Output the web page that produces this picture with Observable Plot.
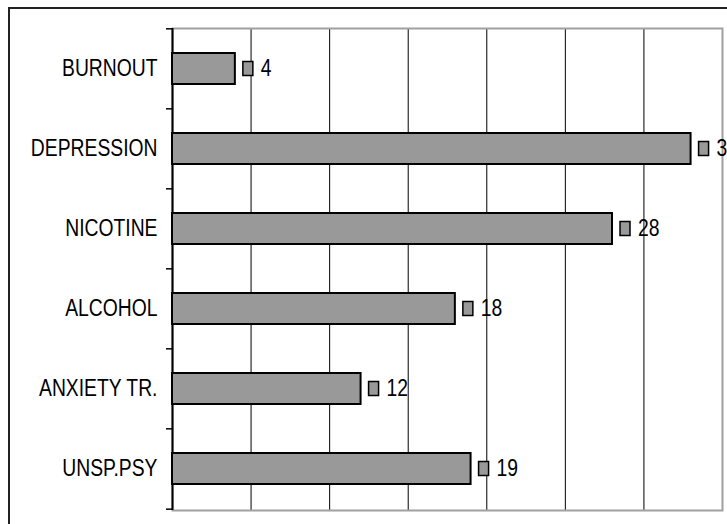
<!DOCTYPE html>
<html>
<head>
<meta charset="utf-8">
<script src="https://cdn.jsdelivr.net/npm/d3@7"></script>
<script src="https://cdn.jsdelivr.net/npm/@observablehq/plot@0.6"></script>
<style>
  html, body { margin: 0; padding: 0; background: #fff; overflow: hidden; width: 727px; height: 524px; }
  #wrap { position: relative; width: 727px; height: 524px; }
  #border { position: absolute; left: 8px; top: 7px; width: 800px; height: 600px; border: 2px solid #222; box-sizing: border-box; }
  #chart { position: absolute; left: 0; top: 0; }
</style>
</head>
<body>
<div id="wrap">
  <div id="border"></div>
  <div id="chart"></div>
</div>
<script>
const categories = ["BURNOUT", "DEPRESSION", "NICOTINE", "ALCOHOL", "ANXIETY TR.", "UNSP.PSY"];
const values = [4, 33, 28, 18, 12, 19];
const gridTicks = [5, 10, 15, 20, 25, 30];
const xMax = 35;

const data = categories.map((c, i) => ({category: c, value: values[i]}));
const font = "'Liberation Sans', Arial, sans-serif";

const W = 727, H = 524;
const mTop = 28, mBottom = H - 510, mLeft = 172, mRight = W - 722;
const step = (H - mTop - mBottom) / categories.length;

const chart = Plot.plot({
  width: W,
  height: H,
  marginTop: mTop,
  marginBottom: mBottom,
  marginLeft: mLeft,
  marginRight: mRight,
  style: {fontFamily: font, fontSize: "23px", color: "#000", background: "transparent", overflow: "visible"},
  x: {domain: [0, xMax], axis: null},
  y: {domain: categories, paddingInner: 0.61, paddingOuter: 0.305, axis: null, label: null},
  marks: [
    Plot.ruleX(gridTicks, {stroke: "#000", strokeWidth: 1}),
    Plot.frame({stroke: "#a0a0a0", strokeWidth: 2}),
    Plot.ruleX([0], {stroke: "#000", strokeWidth: 2}),
    Plot.axisY({tickSize: 6, dy: -step / 2, text: null, label: null, stroke: "#000", strokeWidth: 1.5}),
    Plot.axisY({ticks: [categories[categories.length - 1]], tickSize: 6, dy: step / 2, text: null, label: null, stroke: "#000", strokeWidth: 1.5}),
    Plot.axisY({tickSize: 0, tickPadding: 15, fontSize: 23, fill: "#000", label: null}),
    Plot.barX(data, {x: "value", y: "category", fill: "#999999", stroke: "#000", strokeWidth: 2}),
    Plot.barX(data, {x1: "value", x2: "value", y: "category", insetLeft: 8, insetRight: -18, insetTop: 8.5, insetBottom: 8.5, fill: "#999999", stroke: "#000", strokeWidth: 1.5}),
    Plot.text(data, {x: "value", y: "category", text: d => String(d.value), dx: 25.5, textAnchor: "start", fontSize: 23, fill: "#000"})
  ]
});
document.getElementById("chart").appendChild(chart);

// Narrow the glyphs (the reference uses a condensed face)
chart.querySelectorAll("text").forEach(t => {
  const len = t.getComputedTextLength();
  if (len > 0) {
    t.setAttribute("textLength", (len * 0.84).toFixed(1));
    t.setAttribute("lengthAdjust", "spacingAndGlyphs");
  }
});
</script>
</body>
</html>
